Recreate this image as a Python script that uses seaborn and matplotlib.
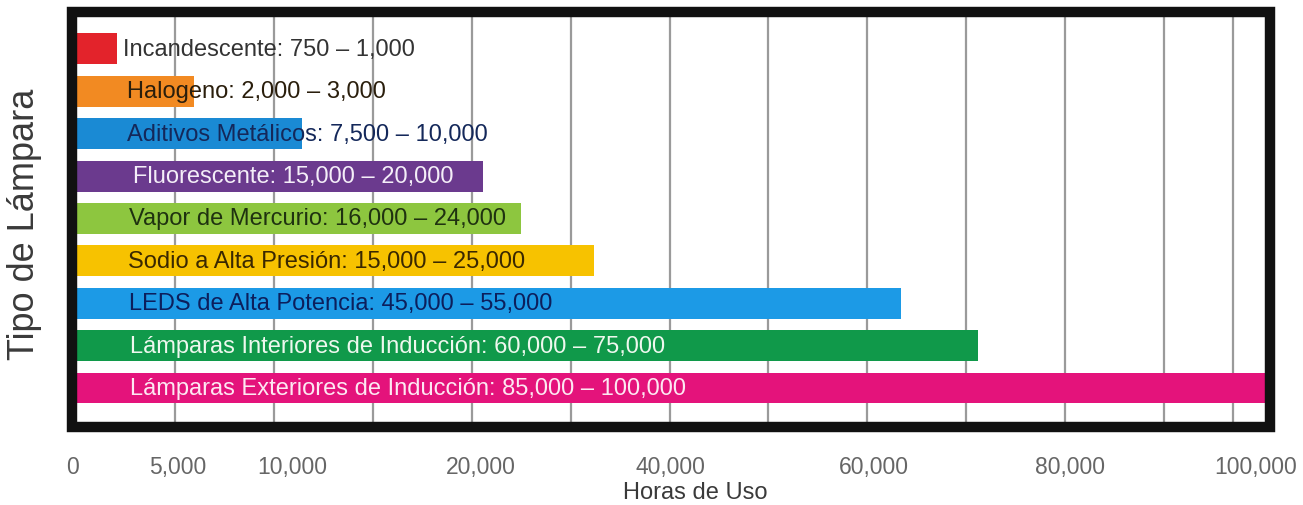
import numpy as np
import pandas as pd
import matplotlib
matplotlib.use("Agg")
import matplotlib.pyplot as plt
from matplotlib.patches import Rectangle
import seaborn as sns

# Lamp types with their lifetime range (hours)
lamparas = ["Incandescente", "Halogeno", "Aditivos Metálicos", "Fluorescente",
            "Vapor de Mercurio", "Sodio a Alta Presión", "LEDS de Alta Potencia",
            "Lámparas Interiores de Inducción", "Lámparas Exteriores de Inducción"]
horas_min = [750, 2000, 7500, 15000, 16000, 15000, 45000, 60000, 85000]
horas_max = [1000, 3000, 10000, 20000, 24000, 25000, 55000, 75000, 100000]
# bar lengths as drawn in the picture, read against its (uneven) axis
largo_barra = [2100, 5700, 10500, 20200, 24200, 32000, 62700, 70600, 101500]

colores = ["#e3232b", "#f28a22", "#1a8ad4", "#6b3a8e", "#8dc63f",
           "#f7c200", "#1c9ae6", "#10994a", "#e4137b"]
colores_texto = ["#333333", "#2a1e0c", "#14285a", "#f4eef8", "#1f3210",
                 "#3a2800", "#0c1f5c", "#eef8ee", "#fde8f2"]

tick_vals = [0, 5000, 10000, 20000, 40000, 60000, 80000, 100000]

# layout of the uneven axis: where each tick value sits (px from the left edge)
tick_px = [0, 106, 220, 409, 598, 802, 998, 1184]
label_offset_px = [51, 55, 55, 61, 57, 56, 57, 58, 58]

anchor_v = np.r_[-1e5, tick_vals, 2e5].astype(float)
anchor_p = np.r_[-1e5 * 106 / 5000, tick_px, 1184 + 1e5 * 186 / 20000].astype(float)


def fwd(v):
    return np.interp(v, anchor_v, anchor_p)


def inv(p):
    return np.interp(p, anchor_p, anchor_v)


df = pd.DataFrame({"lampara": lamparas, "horas": largo_barra})
df["etiqueta"] = [f"{n}: {a:,} – {b:,}" for n, a, b in zip(lamparas, horas_min, horas_max)]

sns.set_style("white")
plt.rcParams["font.family"] = ["Liberation Sans", "DejaVu Sans"]

fig = plt.figure(figsize=(13.03, 5.06), dpi=100)
ax = fig.add_axes([0.0553, 0.1542, 0.9194, 0.8201])

sns.barplot(data=df, x="horas", y="lampara", hue="lampara", palette=colores,
            legend=False, orient="h", width=0.73, saturation=1, linewidth=0, ax=ax)

ax.set_xscale("function", functions=(fwd, inv))
ax.set_xlim(0, 101500)
ax.set_ylim(8.92, -0.87)

# evenly spaced vertical rules of the original (not tied to tick values)
grid_x = [(103 + 98.9 * k) / 1198 for k in range(11)] + [1161 / 1198]
ax.vlines(grid_x, 0, 1, transform=ax.transAxes, color="#9a9a9a", lw=1.6, zorder=0.5)

for i, (txt, col) in enumerate(zip(df["etiqueta"], colores_texto)):
    ax.annotate(txt, xy=(0, i), xytext=(label_offset_px[i] * 0.72, 0),
                textcoords="offset points", va="center", ha="left",
                fontsize=17, color=col, zorder=3)

ax.set_xticks(tick_vals)
ax.set_xticklabels([f"{v:,}" for v in tick_vals])
ax.minorticks_off()
ax.tick_params(axis="x", length=0, pad=20, labelsize=16.5, labelcolor="#666666")
ax.set_yticks([])

ax.set_xlabel("Horas de Uso", fontsize=17, color="#3a3a3a")
ax.xaxis.set_label_coords(0.52, -0.13)
ax.set_ylabel("Tipo de Lámpara", fontsize=26, color="#3a3a3a")
ax.yaxis.set_label_coords(-0.025, 0.49)

# heavy black frame with square corners
for s in ax.spines.values():
    s.set_visible(False)
ax.add_patch(Rectangle((0, 0), 1, 1, transform=ax.transAxes, fill=False,
                       lw=7.5, ec="#111111", joinstyle="miter",
                       clip_on=False, zorder=4))

fig.savefig("out.png", dpi=100)
